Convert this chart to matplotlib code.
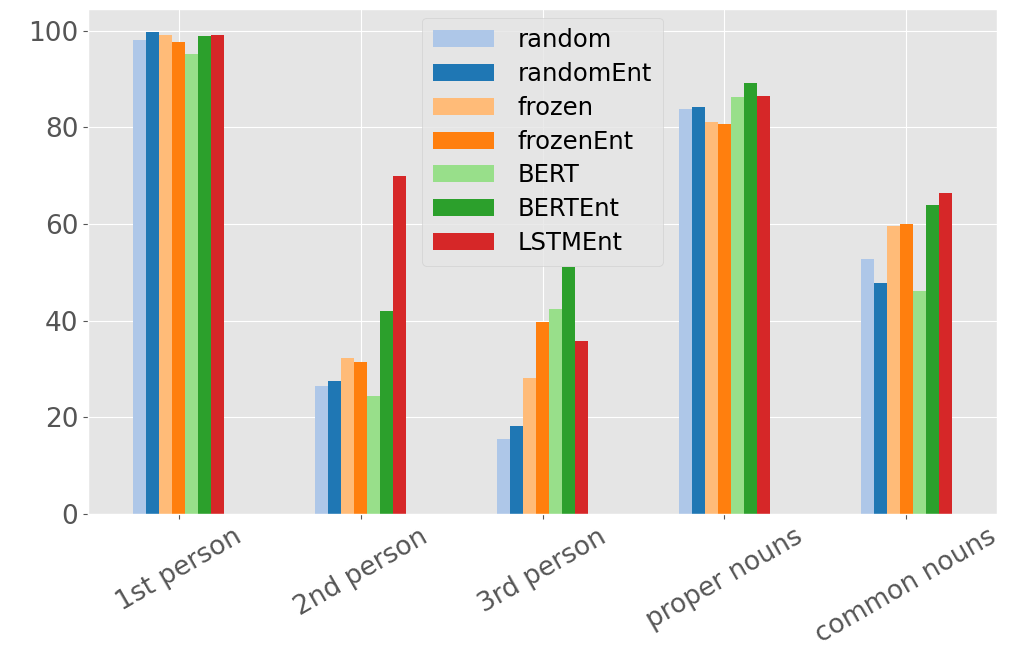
import matplotlib
matplotlib.use("Agg")
import matplotlib.pyplot as plt
import numpy as np

plt.style.use("ggplot")

categories = ["1st person", "2nd person", "3rd person", "proper nouns", "common nouns"]
series_names = ["random", "randomEnt", "frozen", "frozenEnt", "BERT", "BERTEnt", "LSTMEnt"]
random_vals = [98.1, 26.5, 15.5, 83.9, 52.7]
randomEnt_vals = [99.8, 27.5, 18.2, 84.3, 47.9]
frozen_vals = [99.2, 32.2, 28.1, 81.2, 59.6]
frozenEnt_vals = [97.7, 31.4, 39.8, 80.6, 60.0]
BERT_vals = [95.1, 24.5, 42.4, 86.3, 46.1]
BERTEnt_vals = [98.9, 42.1, 51.2, 89.2, 64.0]
LSTMEnt_vals = [99.2, 69.9, 35.9, 86.6, 66.4]
colors = ["#aec7e8", "#1f77b4", "#ffbb78", "#ff7f0e", "#98df8a", "#2ca02c", "#d62728"]

all_vals = [random_vals, randomEnt_vals, frozen_vals, frozenEnt_vals,
            BERT_vals, BERTEnt_vals, LSTMEnt_vals]

fig = plt.figure(figsize=(10.16, 6.54), dpi=100)
ax = fig.add_axes([88/1016, 1 - 514/654, 909/1016, 505/654])

n = len(series_names)
width = 0.5 / n
x = np.arange(len(categories))
for i, (name, vals, c) in enumerate(zip(series_names, all_vals, colors)):
    ax.bar(x - 0.25 + width * (i + 0.5), vals, width, color=c, label=name)

ax.set_xlim(-0.5, len(categories) - 0.5)
ax.set_ylim(0, 104.5)
ax.set_xticks(x)
ax.set_xticklabels(categories, rotation=30, fontsize=19)
ax.set_yticks([0, 20, 40, 60, 80, 100])
ax.tick_params(axis="y", labelsize=19)
ax.legend(loc="upper center", fontsize=17.5, facecolor="#e5e5e5", edgecolor="#cccccc",
          handlelength=2.5, handletextpad=1.0, borderaxespad=0.35, labelspacing=0.4,
          borderpad=0.45)

fig.savefig("out.png", dpi=100)
